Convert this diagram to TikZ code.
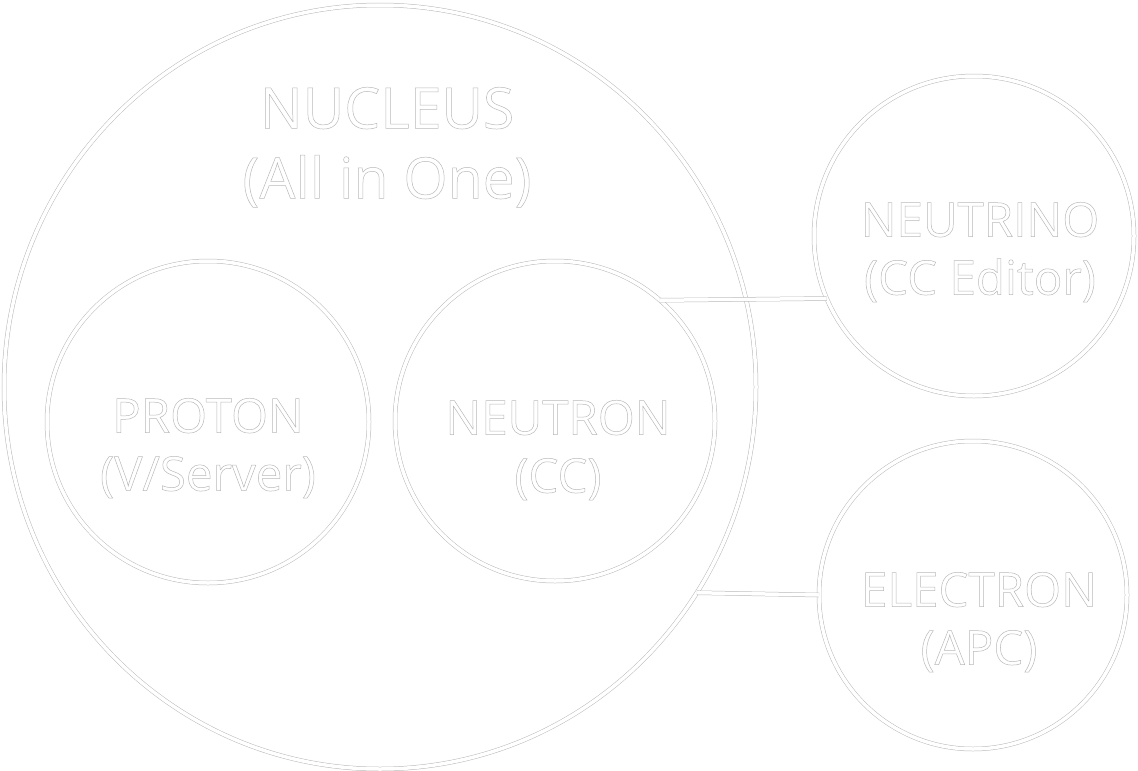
\documentclass[tikz,border=0pt]{standalone}
\usepackage{fontspec}
\setmainfont{Open Sans}
\usetikzlibrary{positioning, shapes.geometric}
\newcommand{\hollowtext}{\special{pdf:code 1 Tr 0.5 w}}
\tikzset{
  shell/.style={circle, draw=black!28, double=white, double distance=3.5pt, line width=0.5pt, inner sep=0pt, outer sep=0pt},
  link/.style={draw=black!28, double=white, double distance=3.5pt, line width=0.5pt},
  bigtag/.style={align=center, anchor=north, inner sep=0pt, text=black!28, font=\fontsize{57}{70}\selectfont\hollowtext},
  tag/.style={align=center, anchor=north, inner sep=0pt, text=black!28, font=\fontsize{47.5}{58}\selectfont\hollowtext}
}
\begin{document}
\begin{tikzpicture}[x=1pt, y=-1pt]
        \useasboundingbox (0,0) rectangle (1138,771);

        % Circles
        \node (nucleus) [shell, ellipse, minimum width=752pt, minimum height=764pt] at (380,387) {};
        \node (proton) [shell, minimum size=322pt] at (208,422) {};
        \node (neutron) [shell, minimum size=320pt] at (555,421) {};
        \node (neutrino) [shell, minimum size=320pt] at (974,236) {};
        \node (electron) [shell, minimum size=308pt] at (973,595) {};

        % Labels
        \node (nucleustag) [bigtag] at (387,87) {NUCLEUS\\(All in One)};
        \node (protontag) [tag] at (208,398) {PROTON\\(V/Server)};
        \node (neutrontag) [tag] at (558,400) {NEUTRON\\(CC)};
        \node (neutrinotag) [tag] at (980,202) {NEUTRINO\\(CC Editor)};
        \node (electrontag) [tag] at (979,572) {ELECTRON\\(APC)};

        % Connectors
        \draw [link] (neutron.49) -- (neutrino.203.5);
        \draw [link] (nucleus.-33.5) -- (electron.west);

\end{tikzpicture}
\end{document}
